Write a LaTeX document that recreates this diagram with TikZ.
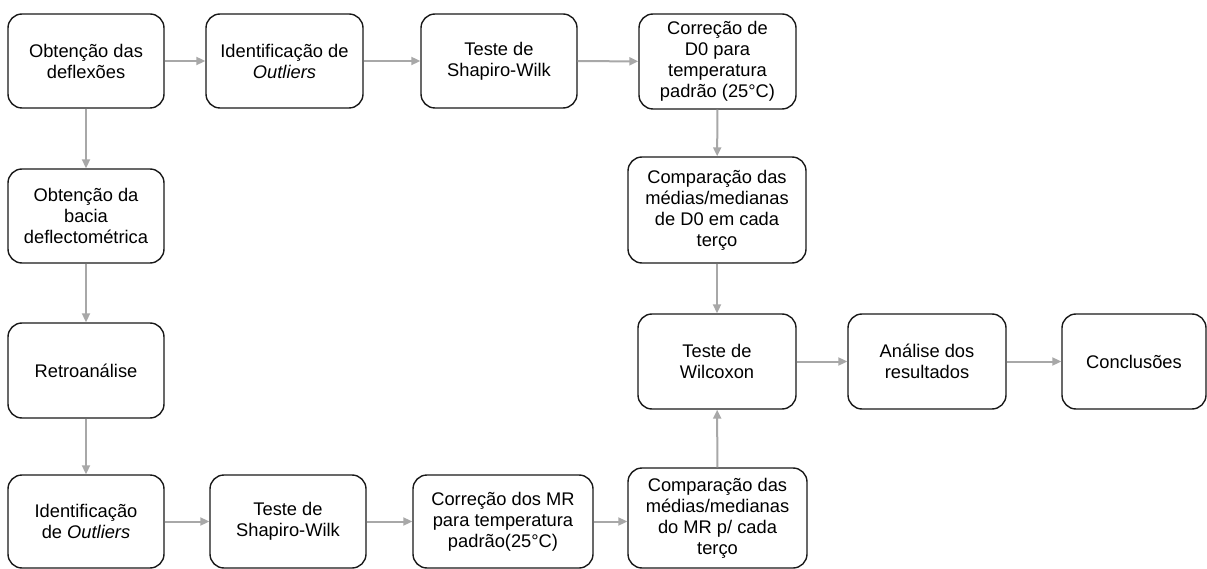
\documentclass[tikz,border=0pt]{standalone}
\usepackage{fontspec}
\setmainfont{Liberation Sans}
\usetikzlibrary{arrows.meta}
\definecolor{arrowgray}{RGB}{168,168,168}
\definecolor{boxline}{RGB}{25,25,25}
\tikzset{
  stepbox/.style={draw=boxline, line width=1.4pt, rounded corners=14pt, inner sep=0pt,
    align=center, fill=white, font=\fontsize{18.3}{21}\selectfont},
  flow/.style={draw=arrowgray, line width=2pt, -{Triangle[length=9pt,width=8pt]}}
}
\begin{document}
\begin{tikzpicture}[x=1pt,y=-1pt]
\useasboundingbox (0,0) rectangle (1207,569);
% top row
\node[stepbox, minimum width=156, minimum height=94] (A) at (86,61) {Obtenção das\\deflexões};
\node[stepbox, minimum width=157, minimum height=94] (B) at (284.5,61) {Identificação de\\\textit{Outliers}};
\node[stepbox, minimum width=156, minimum height=94] (C) at (499,61) {Teste de\\Shapiro-Wilk};
\node[stepbox, minimum width=157, minimum height=95] (D) at (717.5,61.5) {Correção de\\D0 para\\temperatura\\padrão (25°C)};
% left column
\node[stepbox, minimum width=156, minimum height=94] (E) at (86,216) {Obtenção da\\bacia\\deflectométrica};
\node[stepbox, minimum width=156, minimum height=95] (F) at (86,370.5) {Retroanálise};
\node[stepbox, minimum width=156, minimum height=93] (G) at (86,521.5) {Identificação\\de \textit{Outliers}};
% bottom row
\node[stepbox, minimum width=156, minimum height=93] (H) at (288,521.5) {Teste de\\Shapiro-Wilk};
\node[stepbox, minimum width=180, minimum height=93] (I) at (503,521.5) {Correção dos MR\\para temperatura\\padrão(25°C)};
\node[stepbox, minimum width=179, minimum height=100] (J) at (717.5,518) {Comparação das\\médias/medianas\\do MR p/ cada\\terço};
% right part
\node[stepbox, minimum width=178, minimum height=106] (K) at (717,210) {Comparação das\\médias/medianas\\de D0 em cada\\terço};
\node[stepbox, minimum width=158, minimum height=95] (L) at (717,361.5) {Teste de\\Wilcoxon};
\node[stepbox, minimum width=158, minimum height=95] (M) at (927,361.5) {Análise dos\\resultados};
\node[stepbox, minimum width=144, minimum height=95] (N) at (1134,361.5) {Conclusões};
% connectors
\draw[flow] (A) -- (B);
\draw[flow] (B) -- (C);
\draw[flow] (C) -- (D);
\draw[flow] (A) -- (E);
\draw[flow] (E) -- (F);
\draw[flow] (F) -- (G);
\draw[flow] (G) -- (H);
\draw[flow] (H) -- (I);
\draw[flow] (I.east) -- (I.east -| J.west);
\draw[flow] (J) -- (L);
\draw[flow] (D) -- (K);
\draw[flow] (K) -- (L);
\draw[flow] (L) -- (M);
\draw[flow] (M) -- (N);
\end{tikzpicture}
\end{document}
